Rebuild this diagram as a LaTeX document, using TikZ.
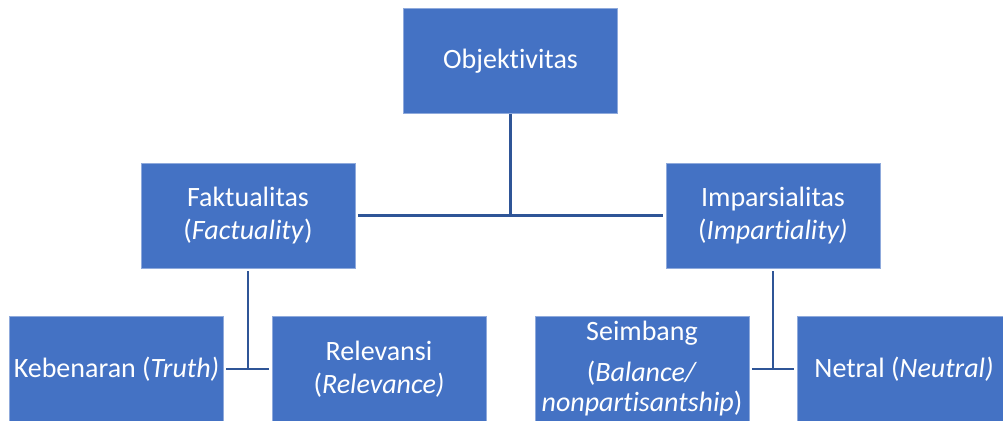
\documentclass[tikz,border=0pt]{standalone}
\usepackage{fontspec}
\setmainfont[Ligatures={NoCommon}]{Carlito}
\definecolor{boxblue}{HTML}{4472C4}
\definecolor{lineblue}{HTML}{2F5597}

\begin{document}
\begin{tikzpicture}[x=0.75pt, y=-0.75pt,
  box/.style={draw=boxblue!60!white, line width=0.4pt, fill=boxblue, text=white,
    minimum width=160.5pt, minimum height=79pt, inner sep=0pt, align=center,
    font=\fontsize{21}{24.75}\selectfont},
  boxtext/.style={text=white, inner sep=0pt, align=center,
    font=\fontsize{21}{22.5}\selectfont},
  link/.style={draw=lineblue, line width=2pt}]
\useasboundingbox (0,0) rectangle (1003,421);
% top level
\node[box] (obj) at (510.5,61) {Objektivitas};
% second level
\node[box] (fakt) at (248,215.5) {Faktualitas\\(\textit{Factuality})};
\node[box] (imp) at (773,215.5) {Imparsialitas\\(\textit{Impartiality)}};
% third level
\node[box] (keb) at (116.5,369) {Kebenaran (\textit{Truth)}};
\node[box] (rel) at (379,369) {Relevansi\\(\textit{Relevance)}};
\node[box] (seim) at (642,369) {};
\node[boxtext, anchor=north] (seimtext) at (642,321)
  {Seimbang\\[8pt](\textit{Balance/}\\\textit{nonpartisantship})};
\node[box] (net) at (904,369) {Netral (\textit{Neutral)}};
% connectors
\coordinate (midtop) at (obj.south |- fakt.east);
\draw[link] (obj.south) -- (midtop);
\draw[link, shorten <=2pt, shorten >=2pt] (fakt.east) -- (imp.west);
\coordinate (leftjoin) at (fakt.south |- keb.east);
\draw[link, shorten <=2pt] (fakt.south) -- (leftjoin);
\draw[link, shorten <=2pt, shorten >=2pt] (keb.east) -- (rel.west);
\coordinate (rightjoin) at (imp.south |- net.west);
\draw[link, shorten <=2pt] (imp.south) -- (rightjoin);
\draw[link, shorten <=2pt, shorten >=2pt] (seim.east) -- (net.west);
\end{tikzpicture}
\end{document}
